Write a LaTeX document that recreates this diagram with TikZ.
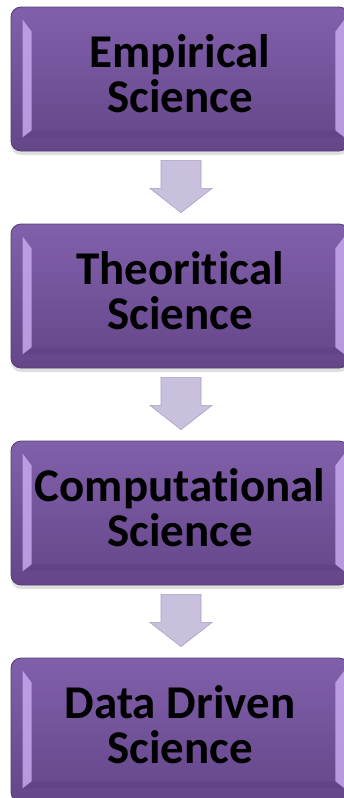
\documentclass[tikz,border=0pt]{standalone}
\usepackage{fontspec}
\setmainfont[Ligatures={NoCommon,NoContextual}]{Carlito}
\usetikzlibrary{calc,shadows}

\definecolor{boxtop}{HTML}{8160AB}
\definecolor{boxbot}{HTML}{644689}
\definecolor{boxedge}{HTML}{553C75}
\definecolor{bevlight}{HTML}{C6A8EE}
\definecolor{bevdark}{HTML}{56397A}
\definecolor{arrowfill}{HTML}{C8C0DC}
\definecolor{arrowline}{HTML}{A99EC6}

\begin{document}
\begin{tikzpicture}[
  x=1pt, y=1pt,
  stage/.style={draw=boxedge, line width=0.8pt, rounded corners=10pt,
                top color=boxtop, bottom color=boxbot,
                minimum width=338pt, minimum height=144pt, inner sep=0pt,
                align=center, font=\fontsize{47}{45}\selectfont\bfseries,
                execute at end node={\rule[-10pt]{0pt}{0pt}},
                drop shadow={opacity=0.25, shadow xshift=0pt, shadow yshift=-4pt}},
  blockarrow/.style={fill=arrowfill, draw=arrowline, line width=0.6pt, line join=miter}
]
\useasboundingbox (0,0) rectangle (343,-798);

% the four stages
\node[stage] (emp)  at (180,-79)  {Empirical\\Science};
\node[stage] (theo) at (180,-296) {Theoritical\\Science};
\node[stage] (comp) at (180,-513) {Computational\\Science};
\node[stage] (data) at (180,-730) {Data Driven\\Science};

% bevel strips
\foreach \n in {emp,theo,comp,data} {
  \fill[bevlight, opacity=0.85] ($(\n.north west)+(12,-13)$) -- ($(\n.north west)+(21,-25)$)
    -- ($(\n.south west)+(21,21)$) -- ($(\n.south west)+(12,14)$) -- cycle;
  \fill[bevlight, opacity=0.85] ($(\n.north east)+(-5,-13)$) -- ($(\n.north east)+(-14,-25)$)
    -- ($(\n.south east)+(-14,21)$) -- ($(\n.south east)+(-5,14)$) -- cycle;
  \fill[bevdark, opacity=0.3] ($(\n.south west)+(12,14)$) -- ($(\n.south west)+(21,21)$)
    -- ($(\n.south east)+(-14,21)$) -- ($(\n.south east)+(-5,14)$) -- cycle;
}

% arrows between the stages
\foreach \a/\b in {emp/theo, theo/comp, comp/data} {
  \filldraw[blockarrow] ($(\a.south)+(-19,-9)$) -- ($(\a.south)+(21,-9)$)
    -- ($(\a.south)+(21,-37)$) -- ($(\a.south)+(32,-37)$)
    -- ($(\b.north)+(1,11)$)
    -- ($(\a.south)+(-30,-37)$) -- ($(\a.south)+(-19,-37)$) -- cycle;
}
\end{tikzpicture}
\end{document}
